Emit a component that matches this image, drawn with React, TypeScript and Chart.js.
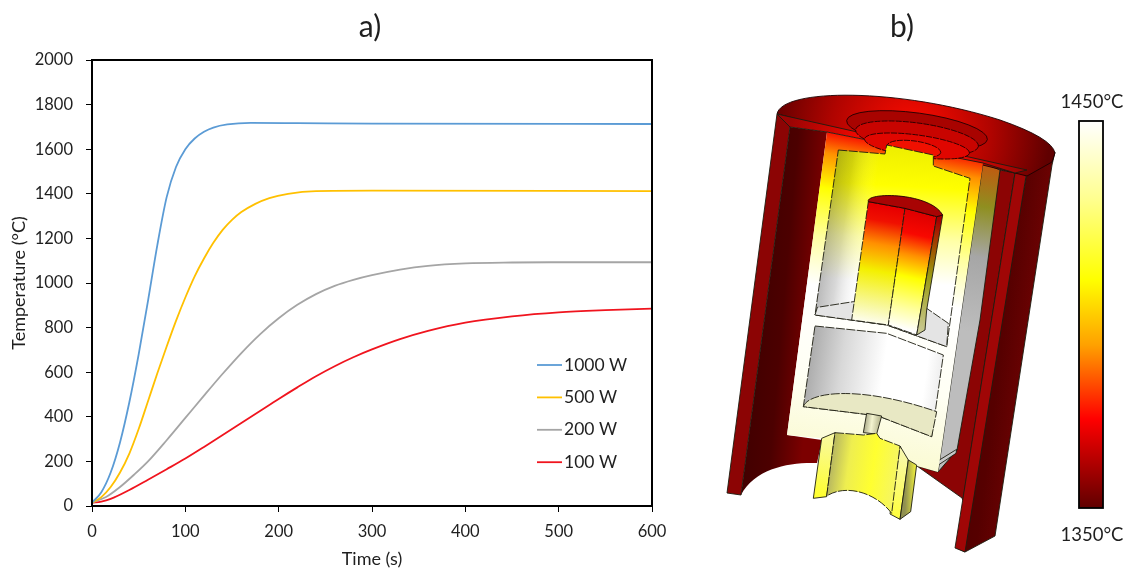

import React, { useEffect, useRef } from "react";
import { Chart, registerables } from "chart.js";

Chart.register(...registerables);

const xTicks = [0, 100, 200, 300, 400, 500, 600];
const yTicks = [0, 200, 400, 600, 800, 1000, 1200, 1400, 1600, 1800, 2000];

const time1000 = [0, 10, 20, 30, 40, 50, 60, 70, 80, 90, 100, 110, 120, 130, 145, 170, 220, 300, 600];
const temp1000 = [15, 62, 150, 285, 465, 680, 920, 1170, 1385, 1520, 1600, 1648, 1678, 1697, 1711, 1718, 1717, 1715, 1713];

const time500 = [0, 10, 20, 30, 40, 50, 60, 70, 80, 90, 100, 110, 120, 130, 140, 150, 160, 175, 190, 210, 240, 300, 600];
const temp500 = [15, 40, 85, 150, 235, 345, 470, 595, 715, 830, 935, 1030, 1110, 1180, 1238, 1283, 1318, 1355, 1381, 1400, 1412, 1414, 1412];

const time200 = [0, 15, 30, 45, 60, 80, 100, 120, 140, 160, 180, 200, 220, 240, 260, 280, 300, 330, 360, 400, 450, 500, 600];
const temp200 = [15, 40, 85, 140, 200, 295, 395, 495, 593, 686, 770, 842, 902, 950, 987, 1014, 1035, 1060, 1077, 1088, 1092, 1093, 1093];

const time100 = [0, 10, 20, 40, 60, 80, 100, 120, 140, 160, 180, 200, 220, 240, 260, 280, 300, 330, 360, 400, 450, 500, 550, 600];
const temp100 = [15, 20, 32, 72, 118, 165, 213, 265, 318, 372, 426, 480, 532, 582, 627, 667, 702, 748, 785, 822, 850, 868, 878, 885];

const seriesLabels = ["1000 W", "500 W", "200 W", "100 W"];
const seriesColors = ["#5B9BD5", "#FFC000", "#A5A5A5", "#F0141E"];
const seriesTimes = [time1000, time500, time200, time100];
const seriesTemps = [temp1000, temp500, temp200, temp100];

const panelTitles = ["a)", "b)"];
const scaleLabels = ["1450°C", "1350°C"];

const FONT = "Lato, 'Open Sans', sans-serif";
const INK = "#1f1f1f";

type P = [number, number];
const z3 = (x: number, y: number): P => [720 + x / 3, 80 + y / 3];
const z4 = (x: number, y: number): P => [720 + x / 3, 310 + y / 3];

function poly(ctx: CanvasRenderingContext2D, pts: P[], fill: any, stroke = true, dash: number[] = []) {
  ctx.beginPath();
  pts.forEach((p, i) => (i ? ctx.lineTo(p[0], p[1]) : ctx.moveTo(p[0], p[1])));
  ctx.closePath();
  if (fill) {
    ctx.fillStyle = fill;
    ctx.fill();
  }
  if (stroke) {
    ctx.setLineDash(dash);
    ctx.strokeStyle = "#1c1c10";
    ctx.lineWidth = 0.9;
    ctx.stroke();
    ctx.setLineDash([]);
  }
}

function lin(ctx: CanvasRenderingContext2D, a: P, b: P, stops: [number, string][]) {
  const g = ctx.createLinearGradient(a[0], a[1], b[0], b[1]);
  stops.forEach(([o, c]) => g.addColorStop(o, c));
  return g;
}

function drawIllustration(ctx: CanvasRenderingContext2D) {
  const DASH = [9, 1.5];
  // right outside wall
  poly(ctx, [[1027, 172], [1055, 152], [1052, 165], [995, 536], [965, 552], [957, 548]], lin(ctx, [960, 350], [1040, 360], [[0, "#4a0000"], [0.5, "#560000"], [1, "#740303"]]));
  // left inner wall, with the curved lower rim
  const leftWall = lin(ctx, [745, 300], [815, 306], [[0, "#3e0000"], [0.55, "#4c0000"], [1, "#7c0000"]]);
  ctx.beginPath();
  ctx.moveTo(790, 127);
  ctx.lineTo(827, 132);
  ctx.lineTo(787, 435);
  ctx.lineTo(822, 440);
  ctx.lineTo(817, 463);
  ctx.bezierCurveTo(790, 462, 755, 468, 741, 495);
  ctx.closePath();
  ctx.fillStyle = leftWall;
  ctx.fill();
  // left outer cut face
  poly(ctx, [[777, 114], [790, 127], [741, 495], [727, 493]], "#8c0404");
  // right dark red back wall
  poly(ctx, [[1000, 170], [1015, 173], [963, 500], [962, 498], [917, 466], [938, 472], [957, 450]], "#8c0404");
  // right grey wall
  poly(ctx, [[983, 163], [1000, 170], [980, 320], [957, 450], [938, 472]], lin(ctx, [985, 165], [960, 330], [[0, "#c05a10"], [0.25, "#8f8f20"], [0.55, "#a6a6a6"], [1, "#bdbdbd"]]));
  poly(ctx, [z4(655, 452), z4(710, 418), z4(708, 430), z4(655, 465)], "#c8c8c8");
  // right outer cut face
  poly(ctx, [[1015, 173], [1027, 170], [965, 552], [955, 548]], "#a00606");
  // top cap
  ctx.beginPath();
  ctx.moveTo(777, 114);
  ctx.bezierCurveTo(782, 88, 900, 88, 1000, 120);
  ctx.quadraticCurveTo(1052, 138, 1055, 153);
  ctx.lineTo(1052, 162);
  ctx.lineTo(1027, 176);
  ctx.closePath();
  const capG = ctx.createRadialGradient(912, 135, 20, 910, 132, 140);
  capG.addColorStop(0, "#ee0a00");
  capG.addColorStop(0.5, "#b00400");
  capG.addColorStop(1, "#600000");
  ctx.fillStyle = capG;
  ctx.fill();
  ctx.strokeStyle = "#1c0000";
  ctx.lineWidth = 0.9;
  ctx.stroke();
  // central cut face
  const faceG = lin(ctx, [912, 118], [855, 460], [
    [0, "#d80000"],
    [0.08, "#f81000"],
    [0.14, "#ff9000"],
    [0.24, "#ffff00"],
    [0.38, "#ffffa0"],
    [0.52, "#ffffff"],
    [0.78, "#fffff4"],
    [1, "#fafad2"],
  ]);
  poly(ctx, [[827, 132], [983, 163], [938, 472], [917, 466], z4(565, 450), z4(305, 385), [787, 435]], faceG, false);
  // red slab under the cut line
  poly(ctx, [[777, 114], [1027, 170], [1015, 173], [983, 163], [827, 132], [790, 127]], lin(ctx, [790, 120], [1020, 170], [[0, "#9a0404"], [0.3, "#f00800"], [0.7, "#f00800"], [1, "#9a0404"]]));
  // stepped recess rings
  const rings: [number, number, number, number][] = [
    [917, 130, 71, 17],
    [917, 138, 62, 15],
    [917, 146, 53, 11],
    [914, 149, 27, 8],
  ];
  const ringFill = ["#a80300", "#c80400", "#e00600", "#f01000"];
  rings.forEach(([cx, cy, rx, ry], i) => {
    ctx.beginPath();
    ctx.ellipse(cx, cy, rx, ry, 0.135, 0, Math.PI * 2);
    ctx.fillStyle = ringFill[i];
    ctx.fill();
    ctx.strokeStyle = "#200000";
    ctx.setLineDash(i ? [6, 1] : []);
    ctx.stroke();
    ctx.setLineDash([]);
  });
  // upper chamber
  const upper: P[] = [z3(355, 210), z3(495, 222), z3(500, 195), z3(640, 225), z3(640, 258), z3(750, 295), z4(680, 110), z4(500, 45), z4(285, 15)];
  poly(ctx, upper, lin(ctx, [885, 150], [875, 325], [[0, "#f0f000"], [0.2, "#ffff00"], [0.5, "#ffffa8"], [0.75, "#ffffff"], [1, "#ffffff"]]), false);
  poly(ctx, upper, lin(ctx, [815, 240], [960, 260], [[0, "rgba(40,40,40,0.42)"], [0.18, "rgba(60,60,60,0.2)"], [0.36, "rgba(255,255,255,0)"], [1, "rgba(255,255,255,0)"]]), true, DASH);
  // upper chamber floor
  poly(ctx, [z4(285, 15), z4(292, -8), z4(400, -25), z4(620, -5), z4(685, 40), z4(680, 110), z4(500, 45)], "#e4e4e4", true, DASH);
  // pillar
  poly(ctx, [z3(445, 365), z3(555, 385), z4(505, 45), z4(395, 30)], lin(ctx, [872, 205], [852, 320], [[0, "#e80000"], [0.12, "#f01000"], [0.32, "#ff9000"], [0.55, "#f4f000"], [0.85, "#f8f8a0"], [1, "#fdfdf0"]]), true, DASH);
  poly(ctx, [z3(555, 385), z3(650, 410), z4(590, 75), z4(505, 45)], lin(ctx, [910, 212], [885, 325], [[0, "#e00000"], [0.18, "#f80800"], [0.36, "#ff9000"], [0.55, "#ffff00"], [0.82, "#ffffa0"], [1, "#ffffff"]]), true, DASH);
  poly(ctx, [z3(650, 410), z3(668, 405), z3(620, 690), z4(615, 60), z4(590, 75)], lin(ctx, [935, 220], [915, 330], [[0, "#a80000"], [0.25, "#a05000"], [0.5, "#9a9a10"], [1, "#c8c890"]]));
  ctx.beginPath();
  const a = z3(445, 365);
  const b = z3(668, 405);
  ctx.moveTo(a[0], a[1]);
  ctx.bezierCurveTo(865, 192, 930, 192, b[0], b[1]);
  ctx.lineTo(...z3(650, 410));
  ctx.lineTo(...z3(555, 385));
  ctx.closePath();
  ctx.fillStyle = "#a80404";
  ctx.fill();
  ctx.strokeStyle = "#200000";
  ctx.stroke();
  // lower chamber
  const lower: P[] = [z4(285, 48), z4(500, 70), z4(670, 135), z4(635, 380), z4(480, 320), z4(430, 312), z4(250, 290)];
  poly(ctx, lower, lin(ctx, [805, 370], [945, 390], [[0, "#a8a8a8"], [0.25, "#d8d8d8"], [0.55, "#ffffff"], [0.85, "#ffffff"], [1, "#e8e8e8"]]), true, DASH);
  ctx.beginPath();
  ctx.moveTo(...z4(250, 290));
  ctx.bezierCurveTo(...z4(265, 245), ...z4(420, 225), ...z4(650, 305));
  ctx.lineTo(...z4(635, 380));
  ctx.lineTo(...z4(480, 320));
  ctx.lineTo(...z4(430, 312));
  ctx.closePath();
  ctx.fillStyle = "#e8e8c4";
  ctx.fill();
  ctx.setLineDash(DASH);
  ctx.strokeStyle = "#1c1c10";
  ctx.stroke();
  ctx.setLineDash([]);
  // nozzle
  poly(ctx, [z4(440, 310), z4(485, 318), z4(470, 372), z4(430, 368)], lin(ctx, [864, 420], [880, 422], [[0, "#a0a080"], [0.5, "#f4f4d0"], [1, "#b8b890"]]));
  // lower tube walls
  poly(ctx, [z4(305, 385), z4(345, 368), z4(320, 560), z4(280, 565)], lin(ctx, [820, 430], [812, 495], [[0, "#f8f8a8"], [1, "#ffff30"]]));
  poly(ctx, [z4(540, 408), z4(565, 450), z4(540, 628), z4(510, 612)], lin(ctx, [905, 450], [892, 515], [[0, "#f8f8b0"], [1, "#ffff40"]]));
  poly(ctx, [z4(565, 450), z4(590, 465), z4(572, 605), z4(540, 628)], lin(ctx, [905, 500], [915, 500], [[0, "#909050"], [1, "#e8e840"]]));
  // lower tube bore
  ctx.beginPath();
  ctx.moveTo(...z4(345, 368));
  ctx.lineTo(...z4(430, 375));
  ctx.lineTo(...z4(470, 370));
  ctx.lineTo(...z4(480, 385));
  ctx.lineTo(...z4(540, 408));
  ctx.lineTo(...z4(515, 610));
  ctx.bezierCurveTo(...z4(470, 550), ...z4(380, 520), ...z4(320, 558));
  ctx.closePath();
  ctx.fillStyle = lin(ctx, [830, 470], [900, 480], [[0, "#b8b860"], [0.25, "#eeee50"], [0.6, "#ffff30"], [1, "#f4f46a"]]);
  ctx.fill();
  ctx.setLineDash(DASH);
  ctx.strokeStyle = "#1c1c10";
  ctx.stroke();
  ctx.setLineDash([]);

  // colour bar
  const bar = lin(ctx, [0, 121], [0, 508], [
    [0, "#ffffff"],
    [0.2, "#ffff90"],
    [0.41, "#ffff00"],
    [0.58, "#ffa000"],
    [0.77, "#ff0000"],
    [1, "#600000"],
  ]);
  ctx.fillStyle = bar;
  ctx.fillRect(1079, 121, 24, 387);
  ctx.strokeStyle = "#000";
  ctx.lineWidth = 1.8;
  ctx.strokeRect(1079, 121, 24, 387);
}

const annotate = {
  id: "annotate",
  afterDatasetsDraw(chart: any) {
    const { ctx, chartArea: ca } = chart;
    ctx.save();
    // frame
    ctx.strokeStyle = "#000";
    ctx.lineWidth = 2;
    ctx.strokeRect(ca.left, ca.top, ca.right - ca.left, ca.bottom - ca.top);
    // legend from the dataset definitions
    ctx.textBaseline = "middle";
    ctx.textAlign = "left";
    ctx.font = `17.5px ${FONT}`;
    chart.data.datasets.forEach((ds: any, i: number) => {
      const y = 365 + i * 32.4;
      ctx.strokeStyle = ds.borderColor;
      ctx.lineWidth = 1.8;
      ctx.beginPath();
      ctx.moveTo(537, y);
      ctx.lineTo(562, y);
      ctx.stroke();
      ctx.fillStyle = INK;
      ctx.fillText(ds.label, 564, y);
    });
    // panel titles
    ctx.textAlign = "center";
    ctx.font = `30px ${FONT}`;
    ctx.fillText(panelTitles[0], 370, 27);
    ctx.fillText(panelTitles[1], 902, 27);
    ctx.font = `18.5px ${FONT}`;
    ctx.fillText(scaleLabels[0], 1092, 102);
    ctx.fillText(scaleLabels[1], 1092, 535);
    drawIllustration(ctx);
    ctx.restore();
  },
};

export default function App() {
  const ref = useRef<HTMLCanvasElement>(null);
  useEffect(() => {
    const chart = new Chart(ref.current!, {
      type: "line",
      data: {
        datasets: seriesLabels.map((label, i) => ({
          label,
          data: seriesTimes[i].map((t, k) => ({ x: t, y: seriesTemps[i][k] })),
          borderColor: seriesColors[i],
          borderWidth: 1.8,
          pointRadius: 0,
          cubicInterpolationMode: "monotone" as const,
          fill: false,
        })),
      },
      options: {
        animation: false,
        responsive: false,
        layout: { padding: { left: 0, top: 60, right: 474, bottom: 0 } },
        plugins: { legend: { display: false }, tooltip: { enabled: false } },
        scales: {
          x: {
            type: "linear",
            min: 0,
            max: 600,
            afterBuildTicks: (s: any) => {
              s.ticks = xTicks.map((value) => ({ value }));
            },
            afterFit: (s: any) => {
              s.height = 66;
            },
            border: { display: false },
            grid: { drawOnChartArea: false, drawTicks: true, tickLength: 6, color: "#000", lineWidth: 1 },
            ticks: { color: INK, font: { family: FONT, size: 16.5 }, padding: 10, maxRotation: 0, callback: (v: any) => String(v) },
            title: { display: true, text: "Time (s)", color: INK, font: { family: FONT, size: 18 }, padding: { top: 0, bottom: 2 } },
          },
          y: {
            type: "linear",
            min: 0,
            max: 2000,
            afterBuildTicks: (s: any) => {
              s.ticks = yTicks.map((value) => ({ value }));
            },
            afterFit: (s: any) => {
              s.width = 92;
            },
            border: { display: false },
            grid: { drawOnChartArea: false, drawTicks: true, tickLength: 6, color: "#000", lineWidth: 1 },
            ticks: { color: INK, font: { family: FONT, size: 16.5 }, padding: 13, callback: (v: any) => String(v) },
            title: { display: true, text: "Temperature (°C)", color: INK, font: { family: FONT, size: 18 }, padding: { top: 8, bottom: 0 } },
          },
        },
      },
      plugins: [annotate],
    } as any);
    return () => chart.destroy();
  }, []);
  return (
    <div style={{ position: "absolute", left: 0, top: 0, width: 1126, height: 572, background: "#fff" }}>
      <canvas ref={ref} width={1126} height={572} style={{ display: "block" }} />
    </div>
  );
}
